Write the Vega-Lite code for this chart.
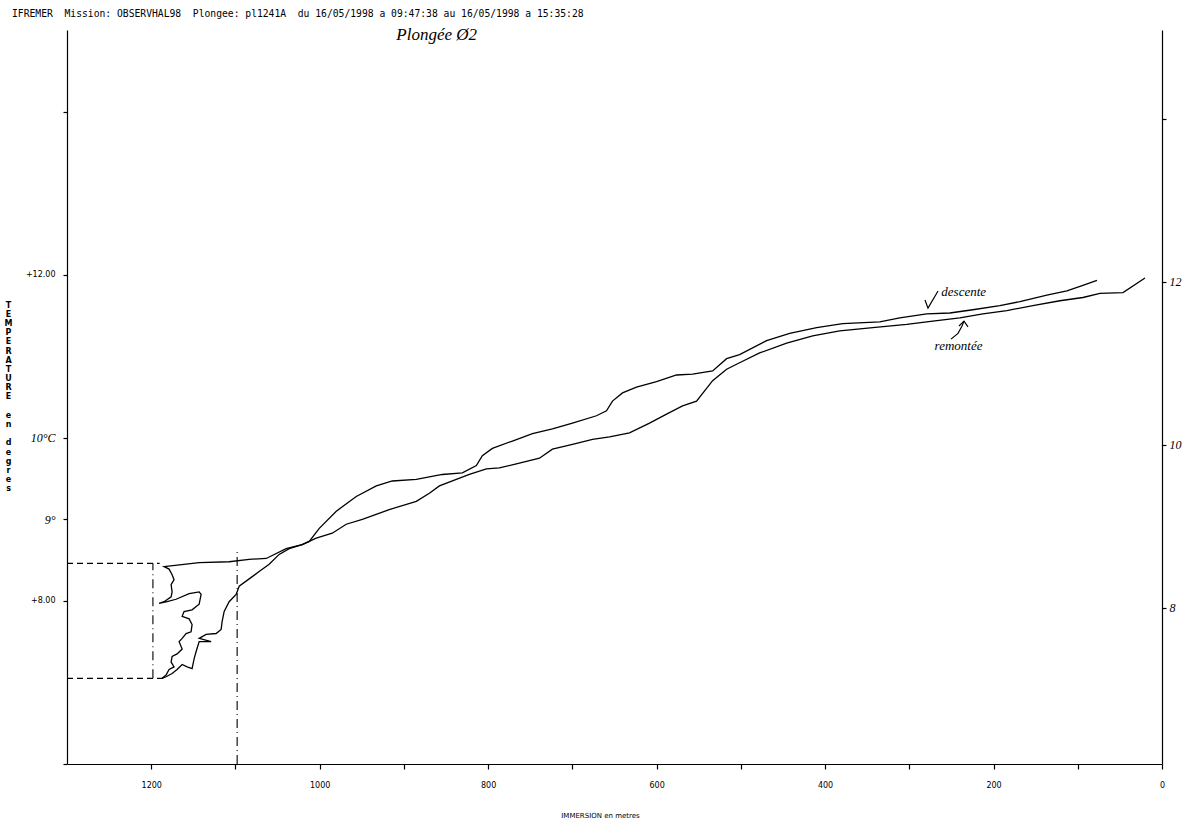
{
  "$schema": "https://vega.github.io/schema/vega-lite/v6.json",
  "width": 1095,
  "height": 734,
  "autosize": {"type": "none"},
  "padding": {"left": 67, "top": 30, "right": 20, "bottom": 57},
  "background": "white",
  "config": {
    "view": {"stroke": null},
    "axis": {
      "grid": false,
      "domainColor": "black",
      "domainWidth": 1.2,
      "tickColor": "black",
      "tickWidth": 1.2,
      "labelColor": "black",
      "titleColor": "black"
    }
  },
  "title": {
    "text": "IFREMER\u00a0 Mission: OBSERVHAL98\u00a0 Plongee: pl1241A\u00a0 du 16/05/1998 a 09:47:38 au 16/05/1998 a 15:35:28",
    "anchor": "start",
    "frame": "group",
    "dx": -55,
    "offset": 7,
    "font": "DejaVu Sans Mono",
    "fontSize": 9.7,
    "fontWeight": "normal",
    "color": "black"
  },
  "datasets": {
    "profile": [
      {"serie": "descente", "i": 1, "immersion": 77.2, "temperature": 11.93},
      {"serie": "descente", "i": 2, "immersion": 93.9, "temperature": 11.87},
      {"serie": "descente", "i": 3, "immersion": 112.9, "temperature": 11.8},
      {"serie": "descente", "i": 4, "immersion": 136.7, "temperature": 11.75},
      {"serie": "descente", "i": 5, "immersion": 168.7, "temperature": 11.67},
      {"serie": "descente", "i": 6, "immersion": 192.5, "temperature": 11.62},
      {"serie": "descente", "i": 7, "immersion": 224.6, "temperature": 11.57},
      {"serie": "descente", "i": 8, "immersion": 251.9, "temperature": 11.53},
      {"serie": "descente", "i": 9, "immersion": 279.3, "temperature": 11.52},
      {"serie": "descente", "i": 10, "immersion": 311.3, "temperature": 11.47},
      {"serie": "descente", "i": 11, "immersion": 335.1, "temperature": 11.42},
      {"serie": "descente", "i": 12, "immersion": 379.1, "temperature": 11.4},
      {"serie": "descente", "i": 13, "immersion": 410.0, "temperature": 11.35},
      {"serie": "descente", "i": 14, "immersion": 442.0, "temperature": 11.28},
      {"serie": "descente", "i": 15, "immersion": 469.4, "temperature": 11.19},
      {"serie": "descente", "i": 16, "immersion": 501.5, "temperature": 11.02},
      {"serie": "descente", "i": 17, "immersion": 516.9, "temperature": 10.97},
      {"serie": "descente", "i": 18, "immersion": 533.5, "temperature": 10.82},
      {"serie": "descente", "i": 19, "immersion": 557.3, "temperature": 10.78},
      {"serie": "descente", "i": 20, "immersion": 576.3, "temperature": 10.77},
      {"serie": "descente", "i": 21, "immersion": 600.1, "temperature": 10.69},
      {"serie": "descente", "i": 22, "immersion": 623.9, "temperature": 10.62},
      {"serie": "descente", "i": 23, "immersion": 640.5, "temperature": 10.55},
      {"serie": "descente", "i": 24, "immersion": 652.4, "temperature": 10.45},
      {"serie": "descente", "i": 25, "immersion": 659.5, "temperature": 10.33},
      {"serie": "descente", "i": 26, "immersion": 671.4, "temperature": 10.27},
      {"serie": "descente", "i": 27, "immersion": 699.9, "temperature": 10.18},
      {"serie": "descente", "i": 28, "immersion": 723.7, "temperature": 10.11},
      {"serie": "descente", "i": 29, "immersion": 747.4, "temperature": 10.05},
      {"serie": "descente", "i": 30, "immersion": 771.2, "temperature": 9.96},
      {"serie": "descente", "i": 31, "immersion": 795.0, "temperature": 9.87},
      {"serie": "descente", "i": 32, "immersion": 806.9, "temperature": 9.78},
      {"serie": "descente", "i": 33, "immersion": 814.0, "temperature": 9.66},
      {"serie": "descente", "i": 34, "immersion": 830.6, "temperature": 9.57},
      {"serie": "descente", "i": 35, "immersion": 854.4, "temperature": 9.55},
      {"serie": "descente", "i": 36, "immersion": 885.3, "temperature": 9.49},
      {"serie": "descente", "i": 37, "immersion": 913.8, "temperature": 9.47},
      {"serie": "descente", "i": 38, "immersion": 932.8, "temperature": 9.41},
      {"serie": "descente", "i": 39, "immersion": 956.6, "temperature": 9.28},
      {"serie": "descente", "i": 40, "immersion": 980.3, "temperature": 9.1},
      {"serie": "descente", "i": 41, "immersion": 1000.5, "temperature": 8.89},
      {"serie": "descente", "i": 42, "immersion": 1012.4, "temperature": 8.73},
      {"serie": "descente", "i": 43, "immersion": 1020.8, "temperature": 8.69},
      {"serie": "descente", "i": 44, "immersion": 1039.8, "temperature": 8.64},
      {"serie": "descente", "i": 45, "immersion": 1063.5, "temperature": 8.52},
      {"serie": "descente", "i": 46, "immersion": 1083.7, "temperature": 8.51},
      {"serie": "descente", "i": 47, "immersion": 1107.5, "temperature": 8.48},
      {"serie": "descente", "i": 48, "immersion": 1143.1, "temperature": 8.47},
      {"serie": "descente", "i": 49, "immersion": 1184.7, "temperature": 8.42},
      {"serie": "descente", "i": 50, "immersion": 1178.8, "temperature": 8.39},
      {"serie": "descente", "i": 51, "immersion": 1175.2, "temperature": 8.32},
      {"serie": "descente", "i": 52, "immersion": 1172.9, "temperature": 8.26},
      {"serie": "descente", "i": 53, "immersion": 1176.4, "temperature": 8.2},
      {"serie": "descente", "i": 54, "immersion": 1175.2, "temperature": 8.11},
      {"serie": "descente", "i": 55, "immersion": 1176.4, "temperature": 8.05},
      {"serie": "descente", "i": 56, "immersion": 1184.7, "temperature": 7.99},
      {"serie": "descente", "i": 57, "immersion": 1190.7, "temperature": 7.97},
      {"serie": "descente", "i": 58, "immersion": 1181.2, "temperature": 7.99},
      {"serie": "descente", "i": 59, "immersion": 1170.5, "temperature": 8.02},
      {"serie": "descente", "i": 60, "immersion": 1155.0, "temperature": 8.09},
      {"serie": "descente", "i": 61, "immersion": 1143.1, "temperature": 8.11},
      {"serie": "descente", "i": 62, "immersion": 1140.8, "temperature": 8.08},
      {"serie": "descente", "i": 63, "immersion": 1143.1, "temperature": 7.96},
      {"serie": "descente", "i": 64, "immersion": 1151.5, "temperature": 7.89},
      {"serie": "descente", "i": 65, "immersion": 1161.0, "temperature": 7.87},
      {"serie": "descente", "i": 66, "immersion": 1163.3, "temperature": 7.81},
      {"serie": "descente", "i": 67, "immersion": 1155.0, "temperature": 7.78},
      {"serie": "descente", "i": 68, "immersion": 1151.5, "temperature": 7.71},
      {"serie": "descente", "i": 69, "immersion": 1152.7, "temperature": 7.62},
      {"serie": "descente", "i": 70, "immersion": 1158.6, "temperature": 7.6},
      {"serie": "descente", "i": 71, "immersion": 1163.3, "temperature": 7.54},
      {"serie": "descente", "i": 72, "immersion": 1166.9, "temperature": 7.5},
      {"serie": "descente", "i": 73, "immersion": 1163.3, "temperature": 7.41},
      {"serie": "descente", "i": 74, "immersion": 1169.3, "temperature": 7.35},
      {"serie": "descente", "i": 75, "immersion": 1175.2, "temperature": 7.32},
      {"serie": "descente", "i": 76, "immersion": 1176.4, "temperature": 7.25},
      {"serie": "descente", "i": 77, "immersion": 1172.9, "temperature": 7.19},
      {"serie": "descente", "i": 78, "immersion": 1178.8, "temperature": 7.16},
      {"serie": "descente", "i": 79, "immersion": 1182.4, "temperature": 7.09},
      {"serie": "descente", "i": 80, "immersion": 1187.1, "temperature": 7.05},
      {"serie": "remontee", "i": 1, "immersion": 20.2, "temperature": 11.96},
      {"serie": "remontee", "i": 2, "immersion": 46.3, "temperature": 11.78},
      {"serie": "remontee", "i": 3, "immersion": 73.7, "temperature": 11.77},
      {"serie": "remontee", "i": 4, "immersion": 93.9, "temperature": 11.72},
      {"serie": "remontee", "i": 5, "immersion": 121.2, "temperature": 11.68},
      {"serie": "remontee", "i": 6, "immersion": 153.3, "temperature": 11.62},
      {"serie": "remontee", "i": 7, "immersion": 184.2, "temperature": 11.56},
      {"serie": "remontee", "i": 8, "immersion": 212.7, "temperature": 11.52},
      {"serie": "remontee", "i": 9, "immersion": 240.0, "temperature": 11.47},
      {"serie": "remontee", "i": 10, "immersion": 272.1, "temperature": 11.43},
      {"serie": "remontee", "i": 11, "immersion": 303.0, "temperature": 11.39},
      {"serie": "remontee", "i": 12, "immersion": 343.4, "temperature": 11.35},
      {"serie": "remontee", "i": 13, "immersion": 382.6, "temperature": 11.31},
      {"serie": "remontee", "i": 14, "immersion": 414.7, "temperature": 11.25},
      {"serie": "remontee", "i": 15, "immersion": 445.6, "temperature": 11.16},
      {"serie": "remontee", "i": 16, "immersion": 477.7, "temperature": 11.04},
      {"serie": "remontee", "i": 17, "immersion": 501.5, "temperature": 10.92},
      {"serie": "remontee", "i": 18, "immersion": 516.9, "temperature": 10.84},
      {"serie": "remontee", "i": 19, "immersion": 533.5, "temperature": 10.7},
      {"serie": "remontee", "i": 20, "immersion": 552.6, "temperature": 10.45},
      {"serie": "remontee", "i": 21, "immersion": 569.2, "temperature": 10.39},
      {"serie": "remontee", "i": 22, "immersion": 588.2, "temperature": 10.29},
      {"serie": "remontee", "i": 23, "immersion": 608.4, "temperature": 10.18},
      {"serie": "remontee", "i": 24, "immersion": 632.2, "temperature": 10.06},
      {"serie": "remontee", "i": 25, "immersion": 655.9, "temperature": 10.01},
      {"serie": "remontee", "i": 26, "immersion": 676.1, "temperature": 9.98},
      {"serie": "remontee", "i": 27, "immersion": 699.9, "temperature": 9.92},
      {"serie": "remontee", "i": 28, "immersion": 723.7, "temperature": 9.86},
      {"serie": "remontee", "i": 29, "immersion": 739.1, "temperature": 9.75},
      {"serie": "remontee", "i": 30, "immersion": 766.5, "temperature": 9.68},
      {"serie": "remontee", "i": 31, "immersion": 786.7, "temperature": 9.63},
      {"serie": "remontee", "i": 32, "immersion": 802.1, "temperature": 9.62},
      {"serie": "remontee", "i": 33, "immersion": 822.3, "temperature": 9.55},
      {"serie": "remontee", "i": 34, "immersion": 857.9, "temperature": 9.41},
      {"serie": "remontee", "i": 35, "immersion": 869.8, "temperature": 9.32},
      {"serie": "remontee", "i": 36, "immersion": 885.3, "temperature": 9.22},
      {"serie": "remontee", "i": 37, "immersion": 917.4, "temperature": 9.12},
      {"serie": "remontee", "i": 38, "immersion": 949.4, "temperature": 9.0},
      {"serie": "remontee", "i": 39, "immersion": 968.5, "temperature": 8.94},
      {"serie": "remontee", "i": 40, "immersion": 985.1, "temperature": 8.83},
      {"serie": "remontee", "i": 41, "immersion": 1004.1, "temperature": 8.77},
      {"serie": "remontee", "i": 42, "immersion": 1020.8, "temperature": 8.69},
      {"serie": "remontee", "i": 43, "immersion": 1036.2, "temperature": 8.64},
      {"serie": "remontee", "i": 44, "immersion": 1048.1, "temperature": 8.57},
      {"serie": "remontee", "i": 45, "immersion": 1060.0, "temperature": 8.45},
      {"serie": "remontee", "i": 46, "immersion": 1071.9, "temperature": 8.36},
      {"serie": "remontee", "i": 47, "immersion": 1083.7, "temperature": 8.27},
      {"serie": "remontee", "i": 48, "immersion": 1095.6, "temperature": 8.18},
      {"serie": "remontee", "i": 49, "immersion": 1099.2, "temperature": 8.08},
      {"serie": "remontee", "i": 50, "immersion": 1107.5, "temperature": 7.99},
      {"serie": "remontee", "i": 51, "immersion": 1113.4, "temperature": 7.87},
      {"serie": "remontee", "i": 52, "immersion": 1115.8, "temperature": 7.75},
      {"serie": "remontee", "i": 53, "immersion": 1117.0, "temperature": 7.65},
      {"serie": "remontee", "i": 54, "immersion": 1123.0, "temperature": 7.6},
      {"serie": "remontee", "i": 55, "immersion": 1134.8, "temperature": 7.59},
      {"serie": "remontee", "i": 56, "immersion": 1143.1, "temperature": 7.54},
      {"serie": "remontee", "i": 57, "immersion": 1128.9, "temperature": 7.5},
      {"serie": "remontee", "i": 58, "immersion": 1143.1, "temperature": 7.5},
      {"serie": "remontee", "i": 59, "immersion": 1146.7, "temperature": 7.38},
      {"serie": "remontee", "i": 60, "immersion": 1149.1, "temperature": 7.29},
      {"serie": "remontee", "i": 61, "immersion": 1151.5, "temperature": 7.17},
      {"serie": "remontee", "i": 62, "immersion": 1157.4, "temperature": 7.19},
      {"serie": "remontee", "i": 63, "immersion": 1163.3, "temperature": 7.22},
      {"serie": "remontee", "i": 64, "immersion": 1169.3, "temperature": 7.16},
      {"serie": "remontee", "i": 65, "immersion": 1175.2, "temperature": 7.11},
      {"serie": "remontee", "i": 66, "immersion": 1182.4, "temperature": 7.07},
      {"serie": "remontee", "i": 67, "immersion": 1187.1, "temperature": 7.05}
    ],
    "guides": [
      {"kind": "dash", "d1": 1300, "d2": 1190, "t1": 8.46, "t2": 8.46},
      {"kind": "dash", "d1": 1300, "d2": 1186, "t1": 7.05, "t2": 7.05},
      {"kind": "dashdot", "d1": 1198, "d2": 1198, "t1": 7.05, "t2": 8.46},
      {"kind": "dashdot", "d1": 1098, "d2": 1098, "t1": 6.0, "t2": 8.62}
    ],
    "notes": [
      {"role": "heading", "immersion": 909, "temperature": 14.88, "text": "Plongée Ø2"},
      {"role": "curve", "immersion": 262, "temperature": 11.74, "text": "descente"},
      {"role": "curve", "immersion": 270, "temperature": 11.08, "text": "remontée"}
    ],
    "arrows": [
      {"arrow": "a1", "j": 1, "immersion": 281.4, "temperature": 11.69},
      {"arrow": "a1", "j": 2, "immersion": 277.8, "temperature": 11.59},
      {"arrow": "a1", "j": 3, "immersion": 265.9, "temperature": 11.8},
      {"arrow": "a2", "j": 1, "immersion": 250.5, "temperature": 11.21},
      {"arrow": "a2", "j": 2, "immersion": 242.2, "temperature": 11.28},
      {"arrow": "a2", "j": 3, "immersion": 237.4, "temperature": 11.37},
      {"arrow": "a2", "j": 4, "immersion": 235.1, "temperature": 11.43},
      {"arrow": "a3", "j": 1, "immersion": 241.0, "temperature": 11.37},
      {"arrow": "a3", "j": 2, "immersion": 235.1, "temperature": 11.43},
      {"arrow": "a3", "j": 3, "immersion": 230.3, "temperature": 11.36}
    ]
  },
  "layer": [
    {
      "data": {"name": "profile"},
      "mark": {"type": "line", "color": "black", "strokeWidth": 1.3, "interpolate": "linear"},
      "encoding": {
        "x": {
          "field": "immersion",
          "type": "quantitative",
          "scale": {"domain": [0, 1300], "reverse": true, "nice": false, "zero": false},
          "axis": {
            "values": [0, 100, 200, 300, 400, 500, 600, 700, 800, 900, 1000, 1100, 1200],
            "format": "d",
            "labelExpr": "datum.value % 200 === 0 ? datum.label : ''",
            "tickSize": 5,
            "labelPadding": 12,
            "labelFont": "DejaVu Sans",
            "labelFontSize": 8,
            "labelFlush": false,
            "title": "IMMERSION en metres",
            "titleFont": "DejaVu Sans",
            "titleFontSize": 7,
            "titleFontWeight": "normal",
            "titleX": 533,
            "titleY": 51,
            "titleBaseline": "middle"
          }
        },
        "y": {
          "field": "temperature",
          "type": "quantitative",
          "scale": {"domain": [6, 15], "nice": false, "zero": false},
          "axis": {
            "orient": "left",
            "values": [6, 8, 9, 10, 12, 14],
            "labelExpr": "datum.value == 12 ? '+12.00' : datum.value == 8 ? '+8.00' : datum.value == 10 ? '10°C' : datum.value == 9 ? '9°' : ''",
            "tickSize": 4,
            "labelPadding": 8,
            "labelFont": {"condition": {"test": "datum.value == 9 || datum.value == 10", "value": "Liberation Serif"}, "value": "DejaVu Sans"},
            "labelFontStyle": {"condition": {"test": "datum.value == 9 || datum.value == 10", "value": "italic"}, "value": "normal"},
            "labelFontSize": {"condition": {"test": "datum.value == 9 || datum.value == 10", "value": 12}, "value": 8},
            "title": ["T", "E", "M", "P", "E", "R", "A", "T", "U", "R", "E", "\u2800", "e", "n", "\u2800", "d", "e", "g", "r", "e", "s"],
            "titleAngle": 0,
            "titleAlign": "center",
            "titleBaseline": "top",
            "titleX": -59,
            "titleY": 271,
            "titleFont": "DejaVu Sans",
            "titleFontSize": 8,
            "titleFontWeight": "bold",
            "titleLineHeight": 9.2
          }
        },
        "detail": {"field": "serie"},
        "order": {"field": "i", "type": "quantitative"}
      }
    },
    {
      "data": {"name": "guides"},
      "transform": [{"filter": "datum.kind === 'dash'"}],
      "mark": {"type": "rule", "color": "black", "strokeWidth": 1.1, "strokeDash": [6, 4]},
      "encoding": {
        "x": {"field": "d1", "type": "quantitative"},
        "x2": {"field": "d2"},
        "y": {"field": "t1", "type": "quantitative", "axis": null},
        "y2": {"field": "t2"}
      }
    },
    {
      "data": {"name": "guides"},
      "transform": [{"filter": "datum.kind === 'dashdot'"}],
      "mark": {"type": "rule", "color": "black", "strokeWidth": 1.1, "strokeDash": [9, 4, 1, 4]},
      "encoding": {
        "x": {"field": "d1", "type": "quantitative"},
        "x2": {"field": "d2"},
        "y": {"field": "t1", "type": "quantitative", "axis": null},
        "y2": {"field": "t2"}
      }
    },
    {
      "data": {"name": "notes"},
      "transform": [{"filter": "datum.role === 'heading'"}],
      "mark": {"type": "text", "align": "left", "baseline": "alphabetic", "font": "Liberation Serif", "fontStyle": "italic", "fontSize": 17, "color": "black"},
      "encoding": {
        "x": {"field": "immersion", "type": "quantitative"},
        "y": {"field": "temperature", "type": "quantitative", "axis": null},
        "text": {"field": "text"}
      }
    },
    {
      "data": {"name": "notes"},
      "transform": [{"filter": "datum.role === 'curve'"}],
      "mark": {"type": "text", "align": "left", "baseline": "alphabetic", "font": "Liberation Serif", "fontStyle": "italic", "fontSize": 13, "color": "black"},
      "encoding": {
        "x": {"field": "immersion", "type": "quantitative"},
        "y": {"field": "temperature", "type": "quantitative", "axis": null},
        "text": {"field": "text"}
      }
    },
    {
      "data": {"name": "arrows"},
      "mark": {"type": "line", "color": "black", "strokeWidth": 1.2},
      "encoding": {
        "x": {"field": "immersion", "type": "quantitative"},
        "y": {
          "field": "temperature",
          "type": "quantitative",
          "axis": {
            "orient": "right",
            "values": [8, 10, 12, 14],
            "labelExpr": "datum.value == 14 ? '' : datum.label",
            "tickSize": 4,
            "tickOffset": 7,
            "labelPadding": 3,
            "labelFont": "Liberation Serif",
            "labelFontStyle": "italic",
            "labelFontSize": 12,
            "title": null
          }
        },
        "detail": {"field": "arrow"},
        "order": {"field": "j", "type": "quantitative"}
      }
    }
  ],
  "resolve": {"axis": {"y": "independent"}}
}
